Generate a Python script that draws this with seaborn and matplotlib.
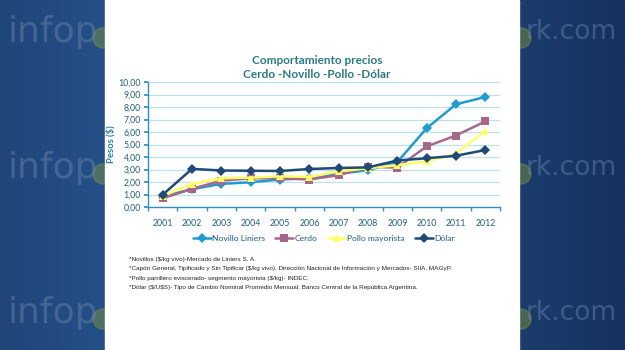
import numpy as np
import pandas as pd
import matplotlib
matplotlib.use("Agg")
import matplotlib.pyplot as plt
import seaborn as sns
from matplotlib.colors import LinearSegmentedColormap
from matplotlib.patches import Rectangle
from matplotlib.ticker import FuncFormatter, FixedLocator

# data
years = [2001, 2002, 2003, 2004, 2005, 2006, 2007, 2008, 2009, 2010, 2011, 2012]
novillo = [0.85, 1.42, 1.85, 1.98, 2.20, 2.30, 2.65, 2.95, 3.60, 6.30, 8.22, 8.80]
cerdo = [0.70, 1.45, 2.10, 2.30, 2.30, 2.20, 2.55, 3.22, 3.15, 4.85, 5.72, 6.85]
pollo = [0.88, 1.85, 2.30, 2.35, 2.45, 2.40, 2.85, 3.10, 3.35, 3.65, 4.25, 6.10]
dolar = [0.98, 3.05, 2.92, 2.90, 2.88, 3.04, 3.12, 3.17, 3.72, 3.90, 4.10, 4.56]

series_names = ["Novillo Liniers", "Cerdo", "Pollo mayorista", "Dólar"]
series_vals = [novillo, cerdo, pollo, dolar]
colors = ["#1E9BD0", "#A8668C", "#FFFF66", "#1F4A78"]
markers = ["D", "s", "^", "D"]

footnotes = [
    "*Novillos ($/kg vivo)-Mercado de Liniers S. A.",
    "*Capón General, Tipificado y Sin Tipificar ($/kg vivo). Dirección Nacional de Información y Mercados- SIIA. MAGyP.",
    "*Pollo parrillero eviscerado- segmento mayorista ($/kg)- INDEC.",
    "*Dólar ($/U$S)- Tipo de Cambio Nominal Promedio Mensual. Banco Central de la República Argentina.",
]

df = pd.DataFrame({
    "Año": years * 4,
    "Pesos": sum(series_vals, []),
    "Serie": sum([[n] * len(years) for n in series_names], []),
})

sns.set_theme(style="white")
plt.rcParams["font.family"] = ["Lato", "DejaVu Sans"]
plt.rcParams["text.parse_math"] = False

fig = plt.figure(figsize=(6.25, 3.5), dpi=100)

# blue background + slide
bg = fig.add_axes([0, 0, 1, 1])
bg.set_xlim(0, 625)
bg.set_ylim(350, 0)
bg.axis("off")
grad = np.linspace(0, 1, 256)[None, :]
grad = np.abs(grad - 0.35)
cmap_bg = LinearSegmentedColormap.from_list("bg", ["#2B5B98", "#16325E"])
bg.imshow(grad, cmap=cmap_bg, aspect="auto", extent=[0, 625, 350, 0])
for yy in [32, 168, 313]:
    bg.add_patch(plt.Circle((103, yy + 6), 10, color="#7E9A3A", alpha=0.45))
    bg.add_patch(plt.Circle((521, yy + 6), 10, color="#7E9A3A", alpha=0.45))
    bg.text(8, yy, "infop", fontsize=26, color="#6A88AE", alpha=0.45,
            va="center", ha="left", family="DejaVu Sans")
    bg.text(526, yy, "rk.com", fontsize=19, color="#6A88AE", alpha=0.45,
            va="center", ha="left", family="DejaVu Sans")
bg.add_patch(Rectangle((105, 0), 414, 350, color="white", zorder=5))

ax = fig.add_axes([148 / 625, 1 - 207 / 350, 352 / 625, 125 / 350])
ax.set_facecolor("white")
sns.lineplot(data=df, x="Año", y="Pesos", hue="Serie", style="Serie",
             hue_order=series_names, style_order=series_names,
             palette=colors, markers=markers, dashes=False,
             linewidth=1.8, markersize=5.5, markeredgewidth=0,
             ax=ax, legend=True)

ax.set_xlim(years[0] - 0.5, years[-1] + 0.5)
ax.set_ylim(0, 10)
ax.set_yticks(np.arange(0, 11, 1))
ax.yaxis.set_major_formatter(FuncFormatter(lambda v, p: f"{v:.2f}".replace(".", ",")))
ax.set_xticks(years)
ax.xaxis.set_minor_locator(FixedLocator(np.arange(years[0] - 0.5, years[-1] + 1, 1)))
ax.grid(axis="y", color="#BFE0EE", linewidth=0.9)
ax.set_axisbelow(True)
for s in ["top", "right"]:
    ax.spines[s].set_visible(False)
for s in ["left", "bottom"]:
    ax.spines[s].set_color("#2E93C4")
    ax.spines[s].set_linewidth(1.0)
ax.tick_params(axis="x", which="major", length=0, pad=9, labelsize=6.3, colors="#1F5F80")
ax.tick_params(axis="x", which="minor", length=3, color="#2E93C4", direction="out", bottom=True)
ax.tick_params(axis="y", length=3, color="#2E93C4", direction="out", left=True,
               labelsize=6.3, colors="#1F5F80", pad=2)
ax.set_xlabel("")
ax.set_ylabel("Pesos ($)", fontsize=6.8, fontweight="bold", color="#2A7FA8", labelpad=2)

ax.legend(loc="upper center", bbox_to_anchor=(0.5, -0.16), ncol=4, frameon=False,
          fontsize=6.1, handlelength=2.1, columnspacing=1.2, handletextpad=0.2,
          labelcolor="#1F5F80")

fig.text(317 / 625, 1 - 60 / 350, "Comportamiento precios", ha="center", va="center",
         fontsize=8.5, fontweight="bold", color="#2A7A85")
fig.text(317 / 625, 1 - 75 / 350, "Cerdo -Novillo -Pollo -Dólar", ha="center", va="center",
         fontsize=8.5, fontweight="bold", color="#2A7A85")

for i, line in enumerate(footnotes):
    fig.text(129 / 625, 1 - (259 + i * 9.6) / 350, line, ha="left", va="center",
             fontsize=4.6, color="#222222", family="Liberation Sans")

fig.savefig("out.png", dpi=100)
